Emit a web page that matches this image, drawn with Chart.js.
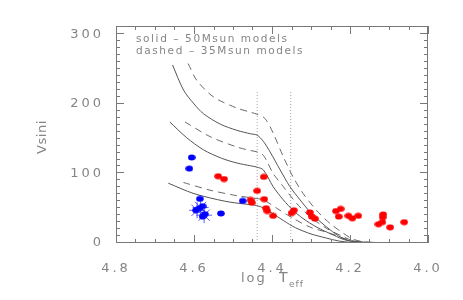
<!DOCTYPE html>
<html>
<head>
<meta charset="utf-8">
<script src="https://cdn.jsdelivr.net/npm/chart.js@4.4.0/dist/chart.umd.min.js"></script>
<style>
    html, body { margin: 0; padding: 0; background: #fff; }
</style>
</head>
<body>
<canvas id="vsiniChart" width="463" height="300"></canvas>
<script>
    // observed stars (log Teff, vsini)
    const redT = [4.538, 4.523, 4.421, 4.438, 4.455, 4.452, 4.420, 4.415, 4.412, 4.397, 4.350, 4.344, 4.303, 4.298, 4.290,
                  4.236, 4.224, 4.229, 4.204, 4.194, 4.179, 4.115, 4.116, 4.127, 4.117, 4.097, 4.061];
    const redV = [96, 92, 95, 75, 62, 58, 63, 50, 46, 39, 43, 47, 44, 38, 35,
                  46, 49, 38, 39, 35.5, 39, 41, 37, 27, 30, 22.5, 30];

    const blueT = [4.606, 4.612, 4.585, 4.475, 4.531, 4.586, 4.578, 4.572, 4.578, 4.595];
    const blueV = [123, 107, 63.5, 60.5, 42.5, 50, 53, 41.5, 38, 47];

    const starT = [4.592, 4.574, 4.583];
    const starV = [47, 40, 51];

    // 50 Msun models (solid)
    const solidTopT = [4.655, 4.627, 4.600, 4.576, 4.533, 4.490, 4.455, 4.438, 4.422, 4.405, 4.379, 4.354, 4.328, 4.303, 4.277, 4.251, 4.226, 4.200, 4.170, 4.100, 4.000];
    const solidTopV = [256, 220, 200, 186, 171, 162, 157, 155, 146, 131, 105, 81, 62, 45, 31, 19, 9, 3, 1, 0, 0];
    const solidMidT = [4.662, 4.620, 4.576, 4.530, 4.490, 4.455, 4.438, 4.422, 4.397, 4.371, 4.346, 4.320, 4.286, 4.243, 4.210, 4.170, 4.000];
    const solidMidV = [174, 152, 134, 122, 115, 111, 109, 105, 81, 62, 47, 35, 23, 11.5, 4, 1, 0];
    const solidLowT = [4.666, 4.600, 4.520, 4.470, 4.440, 4.420, 4.400, 4.370, 4.340, 4.300, 4.260, 4.230, 4.200, 4.150, 4.000];
    const solidLowV = [86, 71, 60, 56, 54, 50, 43, 32, 22, 13, 7, 3, 1, 0, 0];

    // 35 Msun models (dashed)
    const dashTopT = [4.615, 4.593, 4.550, 4.490, 4.455, 4.438, 4.418, 4.397, 4.371, 4.346, 4.320, 4.286, 4.251, 4.217, 4.190, 4.150, 4.000];
    const dashTopV = [258, 234, 210, 194, 188, 185, 179, 158, 124, 95, 71, 47, 28, 14, 5, 1, 0];
    const dashMidT = [4.623, 4.559, 4.490, 4.456, 4.438, 4.422, 4.397, 4.371, 4.337, 4.303, 4.260, 4.217, 4.190, 4.150, 4.000];
    const dashMidV = [174, 153, 138, 133, 131, 126, 100, 81, 57, 38, 21, 9, 3, 1, 0];
    const dashLowT = [4.627, 4.559, 4.490, 4.440, 4.422, 4.388, 4.346, 4.303, 4.251, 4.200, 4.150, 4.000];
    const dashLowV = [87, 76, 68, 64, 62, 50, 35.5, 23, 14, 4, 1, 0];

    // vertical dotted markers
    const markT = [4.438, 4.352];
    const markTop = 217;

    const pts = (xs, ys) => xs.map((x, i) => ({ x: x, y: ys[i] }));

    // filled ellipse used as symbol
    function blob(color) {
        const c = document.createElement("canvas");
        c.width = 8;
        c.height = 7;
        const g = c.getContext("2d");
        g.fillStyle = color;
        g.beginPath();
        g.ellipse(4, 3.5, 3.8, 3, 0, 0, Math.PI * 2);
        g.fill();
        return c;
    }

    function curve(xs, ys, dashed) {
        return {
            data: pts(xs, ys),
            showLine: true,
            borderColor: dashed ? "#6a6a6a" : "#555555",
            borderWidth: 1,
            borderDash: dashed ? [7, 5] : [],
            pointRadius: 0,
            tension: 0.3,
            order: 2
        };
    }

    const datasets = [
        { data: pts(redT, redV), pointStyle: blob("#ff0000"), pointRadius: 4, order: 0 },
        { data: pts(blueT, blueV), pointStyle: blob("#0000ff"), pointRadius: 4, order: 0 },
        { data: pts(starT, starV), pointStyle: "star", pointRadius: 8, borderColor: "rgba(40,40,255,0.75)",
          backgroundColor: "transparent", borderWidth: 1, order: 1 },
        curve(solidTopT, solidTopV, false),
        curve(solidMidT, solidMidV, false),
        curve(solidLowT, solidLowV, false),
        curve(dashTopT, dashTopV, true),
        curve(dashMidT, dashMidV, true),
        curve(dashLowT, dashLowV, true)
    ];
    markT.forEach(t => {
        datasets.push({
            data: [{ x: t, y: 0 }, { x: t, y: markTop }],
            showLine: true,
            borderColor: "#a8a8a8",
            borderWidth: 1,
            borderDash: [1, 2],
            pointRadius: 0,
            order: 3
        });
    });

    const textColor = "#858585";
    const axisColor = "#787878";

    // IDL style box with inward ticks
    function drawTicks(chart) {
        const ctx = chart.ctx;
        const a = chart.chartArea;
        const xs = chart.scales.x;
        const ys = chart.scales.y;
        ctx.save();
        ctx.strokeStyle = axisColor;
        ctx.lineWidth = 1;
        ctx.beginPath();
        for (let i = 0; i <= 16; i++) {
            const p = Math.round(xs.getPixelForValue(4.0 + i * 0.05)) + 0.5;
            const len = i % 4 === 0 ? 8 : 4;
            ctx.moveTo(p, a.bottom);
            ctx.lineTo(p, a.bottom - len);
            ctx.moveTo(p, a.top);
            ctx.lineTo(p, a.top + len);
        }
        for (let v = 0; v <= 310; v += 10) {
            const p = Math.round(ys.getPixelForValue(v)) - 0.5;
            const len = v % 100 === 0 ? 8 : 4;
            ctx.moveTo(a.left, p);
            ctx.lineTo(a.left + len, p);
            ctx.moveTo(a.right, p);
            ctx.lineTo(a.right - len, p);
        }
        ctx.rect(a.left + 0.5, a.top + 0.5, a.right - a.left - 1, a.bottom - a.top - 1);
        ctx.stroke();
        ctx.restore();
    }

    // frame, titles and the note text
    const framePlugin = {
        id: "frame",
        beforeDraw(chart) {
            chart.ctx.letterSpacing = "3px";
        },
        afterDraw(chart) {
            const ctx = chart.ctx;
            ctx.letterSpacing = "0px";
            drawTicks(chart);

            ctx.save();
            ctx.fillStyle = textColor;
            ctx.textBaseline = "alphabetic";
            ctx.textAlign = "left";

            // note
            ctx.font = "10.5px 'DejaVu Sans'";
            ctx.letterSpacing = "1.6px";
            ctx.fillText("solid \u2013 50Msun models", 136, 41.5);
            ctx.fillText("dashed \u2013 35Msun models", 136, 54);

            // x title
            ctx.font = "13px 'DejaVu Sans'";
            ctx.letterSpacing = "2px";
            ctx.fillText("log", 241, 282);
            ctx.letterSpacing = "0px";
            ctx.font = "14px 'DejaVu Sans'";
            ctx.fillText("T", 279, 282);
            ctx.font = "9px 'DejaVu Sans'";
            ctx.letterSpacing = "1px";
            ctx.fillText("eff", 289, 287);

            // y title
            ctx.translate(43, 137);
            ctx.rotate(-Math.PI / 2);
            ctx.font = "13px 'DejaVu Sans'";
            ctx.letterSpacing = "0.6px";
            ctx.textAlign = "center";
            ctx.textBaseline = "middle";
            ctx.fillText("Vsini", 0, 0);
            ctx.restore();
            ctx.letterSpacing = "0px";
        }
    };

    new Chart(document.getElementById("vsiniChart"), {
        type: "scatter",
        data: { datasets },
        options: {
            responsive: false,
            animation: false,
            layout: { padding: { left: 0, right: 35, top: 26, bottom: 0 } },
            plugins: {
                legend: { display: false },
                tooltip: { enabled: false }
            },
            scales: {
                x: {
                    type: "linear",
                    reverse: true,
                    min: 4.0,
                    max: 4.8,
                    grid: { display: false },
                    border: { display: false },
                    ticks: {
                        stepSize: 0.2,
                        maxRotation: 0,
                        padding: 10,
                        color: textColor,
                        font: { family: "'DejaVu Sans'", size: 13 },
                        callback: v => Number(v).toFixed(1)
                    },
                    afterFit: s => { s.height = 57; }
                },
                y: {
                    min: 0,
                    max: 312,
                    grid: { display: false },
                    border: { display: false },
                    ticks: {
                        stepSize: 100,
                        includeBounds: false,
                        padding: 4,
                        color: textColor,
                        font: { family: "'DejaVu Sans'", size: 13 }
                    },
                    afterFit: s => { s.width = 116; }
                }
            }
        },
        plugins: [framePlugin]
    });
</script>
</body>
</html>
